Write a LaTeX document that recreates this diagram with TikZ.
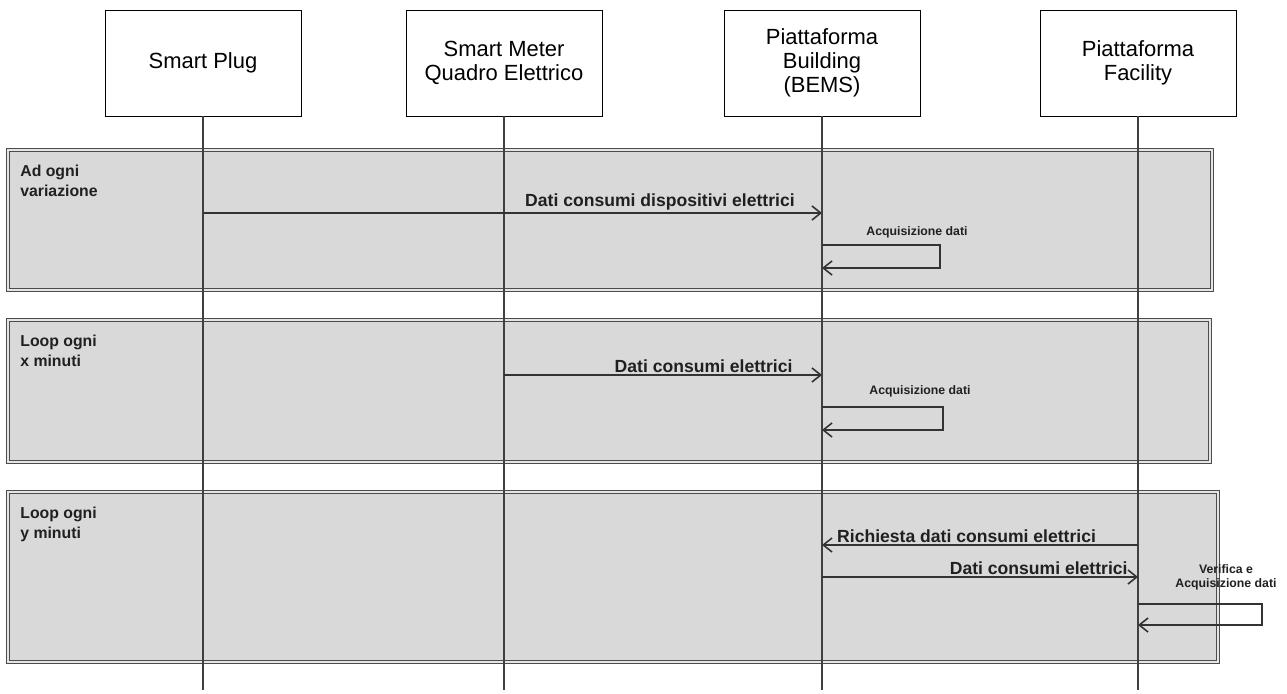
\documentclass[tikz,border=0pt]{standalone}
\usepackage{fontspec}
\setmainfont{Liberation Sans}
\usetikzlibrary{arrows.meta,positioning,calc}

\begin{document}
\begin{tikzpicture}[x=0.02cm, y=-0.02cm,
      actor/.style={draw, fill=white, minimum width=3.92cm, minimum height=2.12cm,
                    align=center, font=\fontsize{12.5}{13.8}\selectfont},
      loopbox/.style={draw=gray!60!black, line width=0.6pt, double=gray!20, double distance=1pt, fill=gray!30},
      life/.style={gray!50!black, line width=0.8pt},
      msg/.style={-{Straight Barb[length=5pt,width=8pt]}, gray!40!black, line width=0.9pt},
      lbl/.style={font=\fontsize{10}{11}\bfseries, text=gray!25!black, inner sep=1pt},
      note/.style={font=\fontsize{7}{8}\bfseries, text=gray!25!black, inner sep=1pt, align=center},
      looplbl/.style={font=\fontsize{9}{11}\bfseries, text=gray!25!black, align=left,
                      anchor=north west, inner sep=0pt}
    ]
      \useasboundingbox (0,0) rectangle (1287,693);

      % loop frames
      \draw[loopbox] (8,150) rectangle (1212,290);
      \draw[loopbox] (8,320) rectangle (1210,462);
      \draw[loopbox] (8,492) rectangle (1218,662);
      \node[looplbl] (loop1) at (20,165) {Ad ogni\\variazione};
      \node[looplbl] (loop2) at (20,335) {Loop ogni\\x minuti};
      \node[looplbl] (loop3) at (20,507) {Loop ogni\\y minuti};

      % participants
      \node[actor] (plug) at (203,63) {Smart Plug};
      \node[actor] (meter) at (504,63) {Smart Meter\\Quadro Elettrico};
      \node[actor] (bems) at (822,63) {Piattaforma\\Building\\(BEMS)};
      \node[actor] (facility) at (1138,63) {Piattaforma\\Facility};

      \coordinate (bottom) at (0,690);
      \foreach \p in {plug,meter,bems,facility}
        \draw[life] (\p.south) -- (\p.south |- bottom);

      % message rows
      \coordinate (m1) at (0,213);
      \coordinate (s1a) at (0,245);
      \coordinate (s1b) at (0,268);
      \coordinate (m2) at (0,375);
      \coordinate (s2a) at (0,407);
      \coordinate (s2b) at (0,430);
      \coordinate (m3) at (0,545);
      \coordinate (m4) at (0,577);
      \coordinate (s3a) at (0,604);
      \coordinate (s3b) at (0,625);

      % ad ogni variazione
      \draw[msg] (plug |- m1) -- (bems |- m1)
        node[lbl, pos=0.96, anchor=south east] {Dati consumi dispositivi elettrici};
      \draw[msg] (bems |- s1a) -- ++(118,0) -- ++(0,23) -- (bems |- s1b);
      \node[note] (acq1) at (917,232) {Acquisizione dati};

      % loop x minuti
      \draw[msg] (meter |- m2) -- (bems |- m2)
        node[lbl, pos=0.915, anchor=south east] {Dati consumi elettrici};
      \draw[msg] (bems |- s2a) -- ++(121,0) -- ++(0,23) -- (bems |- s2b);
      \node[note] (acq2) at (920,391) {Acquisizione dati};

      % loop y minuti
      \draw[msg] (facility |- m3) -- (bems |- m3)
        node[lbl, pos=0.96, anchor=south west] {Richiesta dati consumi elettrici};
      \draw[msg] (bems |- m4) -- (facility |- m4)
        node[lbl, pos=0.975, anchor=south east] {Dati consumi elettrici};
      \draw[msg] (facility |- s3a) -- ++(124,0) -- ++(0,21) -- (facility |- s3b);
      \node[note] (verif) at (1226,577) {Verifica e\\Acquisizione dati};
    \end{tikzpicture}
\end{document}
